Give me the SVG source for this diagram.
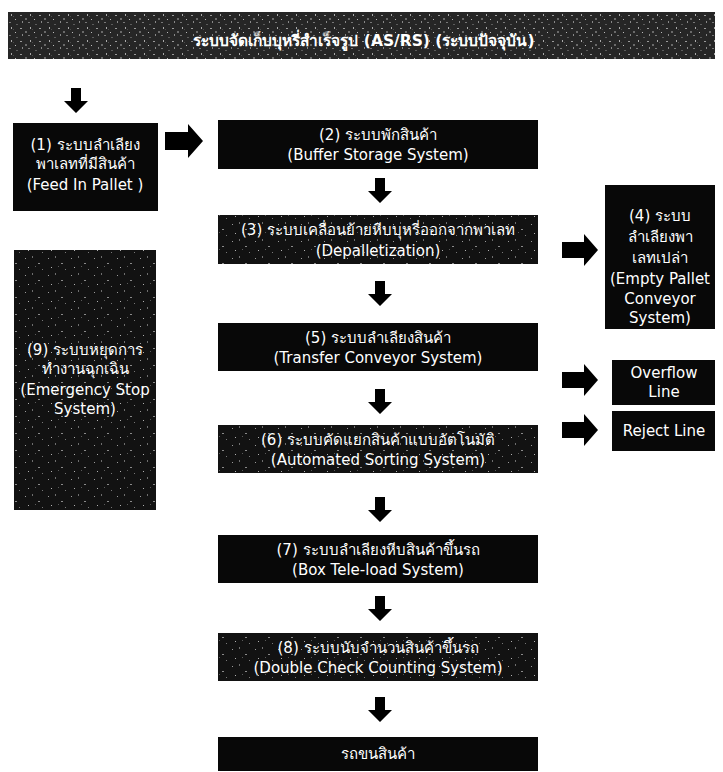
<svg xmlns="http://www.w3.org/2000/svg" width="723" height="772" viewBox="0 0 723 772">
<style>
.box{fill:#080808}
.tex{fill:url(#speck)}
.t{font-family:"DejaVu Sans","Noto Sans",sans-serif;font-size:15px;fill:#fff;text-anchor:middle}
.title{font-size:15.5px;font-weight:bold}
.arr{fill:#000}
</style>
<defs>
<pattern id="speck" width="23" height="17" patternUnits="userSpaceOnUse">
<rect width="23" height="17" fill="#121212"/>
<rect x="2" y="3" width="1" height="1" fill="#9a9a9a"/>
<rect x="9" y="1" width="1" height="2" fill="#6e6e6e"/>
<rect x="15" y="8" width="2" height="1" fill="#8a8a8a"/>
<rect x="5" y="12" width="1" height="1" fill="#b0b0b0"/>
<rect x="19" y="14" width="1" height="1" fill="#777"/>
<rect x="12" y="11" width="1" height="1" fill="#5a5a5a"/>
</pattern>
<pattern id="speck2" width="19" height="13" patternUnits="userSpaceOnUse">
<rect width="19" height="13" fill="#262626"/>
<rect x="1" y="2" width="2" height="1" fill="#9a9a9a"/>
<rect x="6" y="5" width="2" height="2" fill="#6a6a6a"/>
<rect x="11" y="1" width="1" height="2" fill="#aaa"/>
<rect x="3" y="8" width="1" height="2" fill="#888"/>
<rect x="9" y="9" width="2" height="1" fill="#777"/>
<rect x="15" y="6" width="1" height="1" fill="#bbb"/>
<rect x="16" y="11" width="2" height="1" fill="#5c5c5c"/>
<rect x="13" y="3" width="1" height="1" fill="#4a4a4a"/>
</pattern>
<path id="ad" d="M-5,0 h10 v13 h7 l-12,12 l-12,-12 h7 z"/>
<path id="ar" d="M0,-8 h22 v-8 l14,16 l-14,16 v-8 h-22 z"/>
<path id="arb" d="M0,-9 h23 v-8 l15,17 l-15,17 v-8 h-23 z"/>
</defs>
<rect width="723" height="772" fill="#fff"/>

<g id="connectors" class="arr">
<use href="#ad" x="76" y="88"/>
<use href="#arb" x="165" y="141"/>
<use href="#ad" x="380" y="178"/>
<use href="#ad" x="380" y="281"/>
<use href="#ar" x="562" y="250"/>
<use href="#ad" x="380" y="389"/>
<use href="#ar" x="562" y="380"/>
<use href="#ar" x="562" y="430"/>
<use href="#ad" x="380" y="497"/>
<use href="#ad" x="380" y="596"/>
<use href="#ad" x="380" y="697"/>
</g>

<g id="n-top">
<rect x="8" y="12" width="707" height="47" fill="url(#speck2)"/>
<text class="t title" x="364" y="46">ระบบจัดเก็บบุหรี่สำเร็จรูป (AS/RS) (ระบบปัจจุบัน)</text>
</g>

<g id="n1">
<rect class="box" x="13" y="123" width="145" height="88"/>
<text class="t" x="85" y="150">(1) ระบบลำเลียง</text>
<text class="t" x="85" y="169">พาเลทที่มีสินค้า</text>
<text class="t" x="85" y="190">(Feed In Pallet )</text>
</g>

<g id="n2">
<rect class="box" x="218" y="120" width="320" height="49"/>
<text class="t" x="378" y="140">(2) ระบบพักสินค้า</text>
<text class="t" x="378" y="160">(Buffer Storage System)</text>
</g>

<g id="n3">
<rect class="tex" x="218" y="215" width="320" height="49"/>
<text class="t" x="378" y="235">(3) ระบบเคลื่อนย้ายหีบบุหรี่ออกจากพาเลท</text>
<text class="t" x="378" y="256">(Depalletization)</text>
</g>

<g id="n4">
<rect class="box" x="605" y="185" width="110" height="144"/>
<text class="t" x="660" y="221">(4) ระบบ</text>
<text class="t" x="660" y="242">ลำเลียงพา</text>
<text class="t" x="660" y="263">เลทเปล่า</text>
<text class="t" x="660" y="284">(Empty Pallet</text>
<text class="t" x="660" y="304">Conveyor</text>
<text class="t" x="660" y="323">System)</text>
</g>

<g id="n9">
<rect class="tex" x="14" y="250" width="142" height="260"/>
<text class="t" x="85" y="355">(9) ระบบหยุดการ</text>
<text class="t" x="85" y="374">ทำงานฉุกเฉิน</text>
<text class="t" x="85" y="395">(Emergency Stop</text>
<text class="t" x="85" y="414">System)</text>
</g>

<g id="n5">
<rect class="box" x="218" y="323" width="320" height="48"/>
<text class="t" x="378" y="343">(5) ระบบลำเลียงสินค้า</text>
<text class="t" x="378" y="363">(Transfer Conveyor System)</text>
</g>

<g id="n-overflow">
<rect class="box" x="612" y="360" width="103" height="45"/>
<text class="t" x="664" y="378">Overflow</text>
<text class="t" x="664" y="397">Line</text>
</g>

<g id="n-reject">
<rect class="box" x="612" y="411" width="103" height="40"/>
<text class="t" x="664" y="436">Reject Line</text>
</g>

<g id="n6">
<rect class="tex" x="218" y="425" width="320" height="48"/>
<text class="t" x="378" y="445">(6) ระบบคัดแยกสินค้าแบบอัตโนมัติ</text>
<text class="t" x="378" y="465">(Automated Sorting System)</text>
</g>

<g id="n7">
<rect class="box" x="218" y="535" width="320" height="48"/>
<text class="t" x="378" y="555">(7) ระบบลำเลียงหีบสินค้าขึ้นรถ</text>
<text class="t" x="378" y="575">(Box Tele-load System)</text>
</g>

<g id="n8">
<rect class="tex" x="218" y="633" width="320" height="48"/>
<text class="t" x="378" y="653">(8) ระบบนับจำนวนสินค้าขึ้นรถ</text>
<text class="t" x="378" y="673">(Double Check Counting System)</text>
</g>

<g id="n-truck">
<rect class="box" x="218" y="737" width="320" height="34"/>
<text class="t" x="378" y="759">รถขนสินค้า</text>
</g>
</svg>
